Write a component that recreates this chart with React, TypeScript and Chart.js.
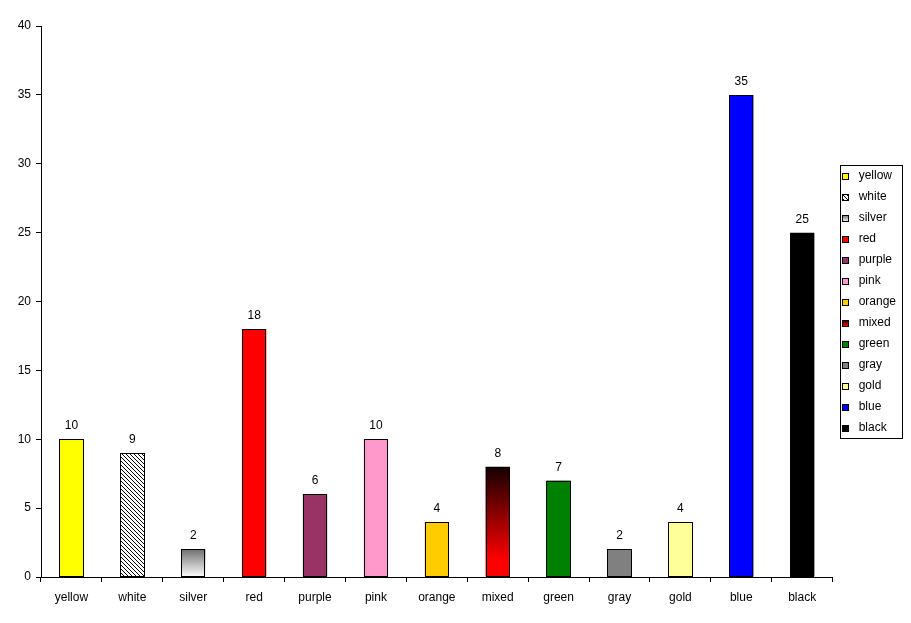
import React, { useEffect, useRef } from "react";
import { Chart, registerables } from "chart.js";

Chart.register(...registerables);

const categories = ["yellow", "white", "silver", "red", "purple", "pink", "orange", "mixed", "green", "gray", "gold", "blue", "black"];
const values = [10, 9, 2, 18, 6, 10, 4, 8, 7, 2, 4, 35, 25];
const fills = ["#FFFF00", "hatch", "silver", "#FF0000", "#993366", "#FF99CC", "#FFCC00", "mixed", "#008000", "#808080", "#FFFF99", "#0000FF", "#000000"];
const yMin = 0;
const yMax = 40;
const yStep = 5;

const FONT = "'Liberation Sans', Arial, sans-serif";

function makeHatch(ctx: CanvasRenderingContext2D): CanvasPattern | string {
  const c = document.createElement("canvas");
  c.width = 4;
  c.height = 4;
  const g = c.getContext("2d");
  if (!g) return "#ffffff";
  g.fillStyle = "#ffffff";
  g.fillRect(0, 0, 4, 4);
  g.fillStyle = "#000000";
  for (let i = 0; i < 4; i++) g.fillRect(i, i, 1, 1);
  return ctx.createPattern(c, "repeat") || "#ffffff";
}

function gradientFor(ctx: CanvasRenderingContext2D, kind: string, top: number, bottom: number) {
  const g = ctx.createLinearGradient(0, top, 0, bottom);
  if (kind === "silver") {
    g.addColorStop(0, "#707070");
    g.addColorStop(1, "#ffffff");
  } else {
    g.addColorStop(0, "#150000");
    g.addColorStop(0.85, "#ff0000");
    g.addColorStop(1, "#ff0000");
  }
  return g;
}

export default function App() {
  const ref = useRef<HTMLCanvasElement>(null);

  useEffect(() => {
    const canvas = ref.current;
    if (!canvas) return;
    const ctx2d = canvas.getContext("2d") as CanvasRenderingContext2D;
    const hatch = makeHatch(ctx2d);

    Chart.defaults.font.family = FONT;
    Chart.defaults.font.size = 12;
    Chart.defaults.color = "#000000";

    const fillFor = (i: number, chart: any) => {
      const f = fills[i];
      if (f === "hatch") return hatch;
      if (f === "silver" || f === "mixed") {
        const y = chart.scales && chart.scales.y;
        if (!y) return f === "silver" ? "#c0c0c0" : "#a00000";
        const top = y.getPixelForValue(values[i]);
        const bottom = y.getPixelForValue(0);
        return gradientFor(chart.ctx, f, top, bottom);
      }
      return f;
    };

    const helperPlugin = {
      id: "helper",
      afterDatasetsDraw(chart: any) {
        const ctx = chart.ctx;
        const meta = chart.getDatasetMeta(0);
        ctx.save();
        ctx.strokeStyle = "#000000";
        ctx.lineWidth = 1;
        meta.data.forEach((el: any) => {
          const l = Math.round(el.x - el.width / 2);
          const r = Math.round(el.x + el.width / 2);
          const t = Math.round(el.y);
          const b = Math.round(el.base);
          ctx.strokeRect(l + 0.5, t + 0.5, r - l - 1, b - t - 1);
        });
        ctx.restore();
      },
      afterDraw(chart: any) {
        const ctx = chart.ctx;
        const lg = chart.legend;
        if (lg && lg.legendHitBoxes && lg.legendHitBoxes.length) {
          let l = Infinity, t = Infinity, r = -Infinity, b = -Infinity;
          ctx.save();
          lg.legendHitBoxes.forEach((hb: any, i: number) => {
            l = Math.min(l, hb.left);
            t = Math.min(t, hb.top);
            r = Math.max(r, hb.left + hb.width);
            b = Math.max(b, hb.top + hb.height);
            const bx = Math.round(hb.left);
            const by = Math.round(hb.top + 3);
            const f = fills[i];
            let fs: any = f;
            if (f === "hatch") fs = hatch;
            else if (f === "silver" || f === "mixed") fs = gradientFor(ctx, f, by, by + 7);
            ctx.fillStyle = fs;
            ctx.fillRect(bx, by, 7, 7);
            ctx.strokeStyle = "#000000";
            ctx.lineWidth = 1;
            ctx.strokeRect(bx + 0.5, by + 0.5, 6, 6);
          });
          ctx.strokeStyle = "#000000";
          ctx.lineWidth = 1;
          const L = Math.round(l - 2), T = Math.round(t - 5), R = Math.round(r + 6), B = Math.round(b + 4);
          ctx.strokeRect(L + 0.5, T + 0.5, R - L, B - T);
          ctx.restore();
        }
        const meta = chart.getDatasetMeta(0);
        ctx.save();
        ctx.fillStyle = "#000000";
        ctx.font = "12px " + FONT;
        ctx.textAlign = "center";
        ctx.textBaseline = "alphabetic";
        meta.data.forEach((el: any, i: number) => {
          ctx.fillText(String(values[i]), el.x, Math.round(el.y) - 10);
        });
        ctx.restore();
      },
    };

    const chart = new Chart(canvas, {
      type: "bar",
      data: {
        labels: categories,
        datasets: [
          {
            label: "colors",
            data: values,
            backgroundColor: (c: any) => fillFor(c.dataIndex, c.chart),
            borderWidth: 0,
            inflateAmount: 0,
            barPercentage: 0.4,
            categoryPercentage: 1,
          } as any,
        ],
      },
      options: {
        animation: false,
        responsive: false,
        devicePixelRatio: 1,
        layout: { padding: { top: 26, right: 5, bottom: 0, left: 0 } },
        plugins: {
          tooltip: { enabled: false },
          legend: {
            position: "right",
            fullSize: false,
            onClick: () => {},
            labels: {
              boxWidth: 11,
              boxHeight: 7,
              padding: 9,
              font: { size: 12, family: FONT },
              color: "#000000",
              generateLabels: () =>
                categories.map((c, i) => ({
                  text: c,
                  fillStyle: "rgba(0,0,0,0)",
                  strokeStyle: "rgba(0,0,0,0)",
                  lineWidth: 0,
                  hidden: false,
                  index: i,
                  datasetIndex: 0,
                })) as any,
            },
          },
        },
        scales: {
          x: {
            offset: true,
            grid: {
              offset: true,
              drawOnChartArea: false,
              drawTicks: true,
              tickLength: 5,
              color: "#000000",
            },
            border: { display: true, color: "#000000" },
            ticks: { padding: 8, color: "#000000", font: { size: 12, family: FONT }, maxRotation: 0, autoSkip: false },
            afterFit: (s: any) => {
              s.height = 46;
            },
          },
          y: {
            min: yMin,
            max: yMax,
            ticks: { stepSize: yStep, padding: 5, color: "#000000", font: { size: 12, family: FONT } },
            grid: {
              drawOnChartArea: false,
              drawTicks: true,
              tickLength: 5,
              color: "#000000",
            },
            border: { display: true, color: "#000000" },
            afterFit: (s: any) => {
              s.width = 41;
            },
          },
        },
      },
      plugins: [helperPlugin],
    });

    return () => chart.destroy();
  }, []);

  return (
    <div style={{ position: "absolute", left: 0, top: 0, width: 911, height: 623, background: "#ffffff" }}>
      <canvas ref={ref} width={911} height={623} style={{ display: "block" }} />
    </div>
  );
}
